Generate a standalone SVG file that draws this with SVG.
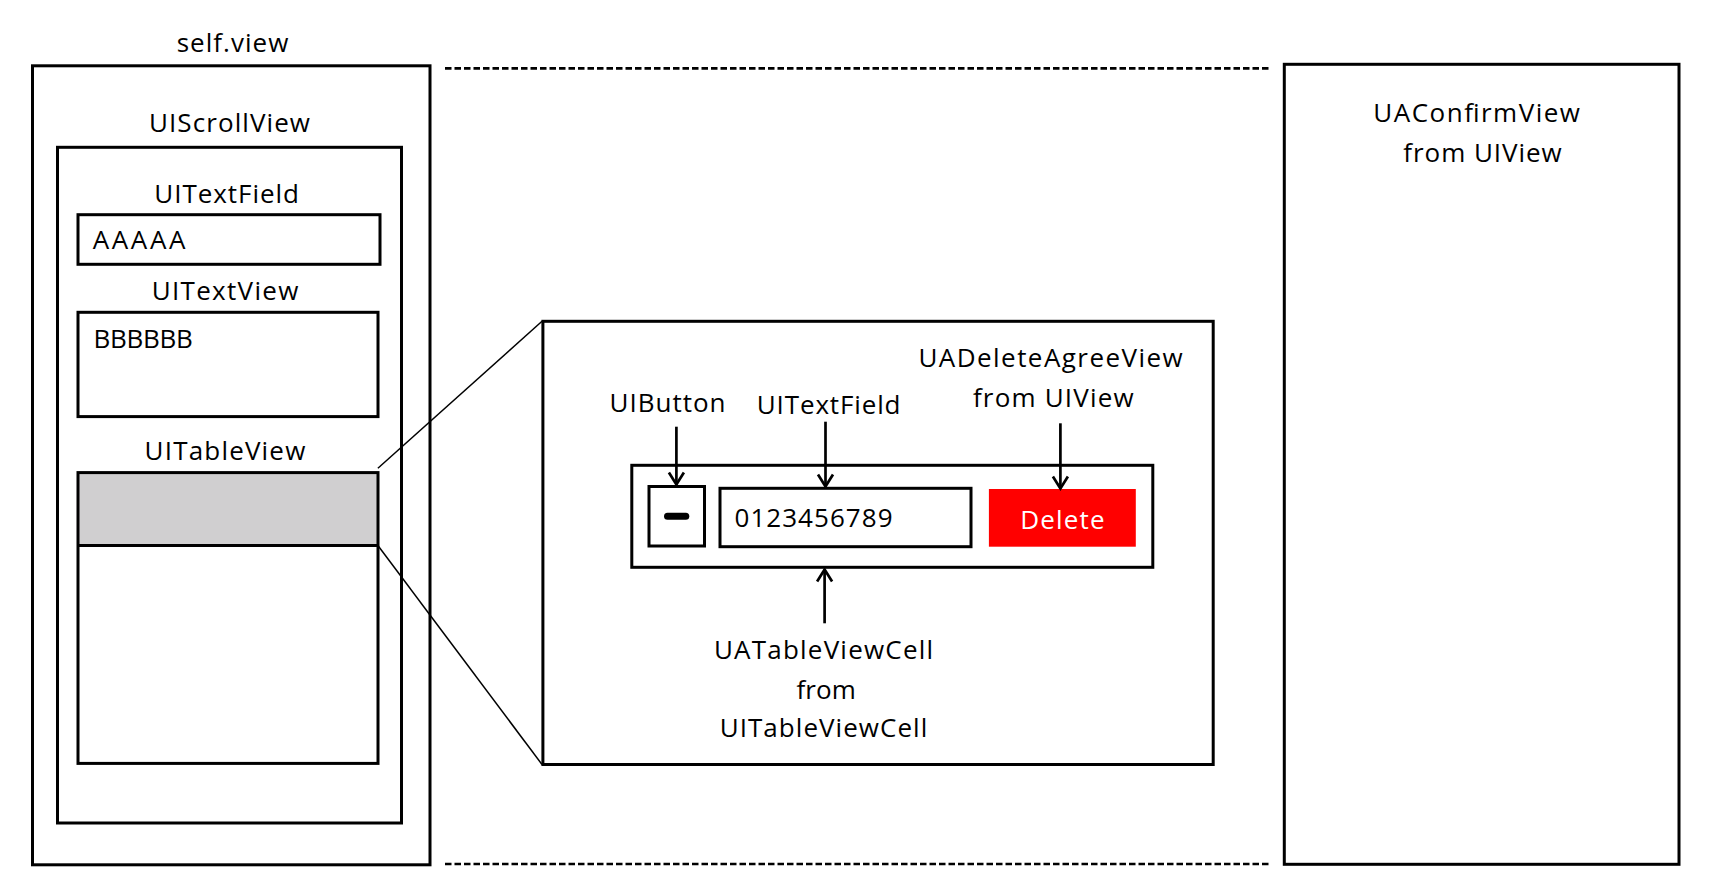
<svg xmlns="http://www.w3.org/2000/svg" width="1711" height="886" viewBox="0 0 1711 886">
<style>
.box{fill:none;stroke:#000;stroke-width:3}
.t{font-family:"Open Sans","Noto Sans","DejaVu Sans",sans-serif;font-size:26px;fill:#000}
.dash{stroke:#000;stroke-width:2.7;stroke-dasharray:6.5 3;fill:none}
.zoom{stroke:#000;stroke-width:1.5;fill:none}
.arr{stroke:#000;stroke-width:2.7;fill:none;marker-end:url(#ah)}
</style>
<defs>
<marker id="ah" markerUnits="userSpaceOnUse" viewBox="-14 -10 16 20" refX="0" refY="0" markerWidth="16" markerHeight="20" orient="auto">
<path d="M-12,-7.5 L0,0 L-12,7.5" fill="none" stroke="#000" stroke-width="2.7"/>
</marker>
</defs>
<rect width="1711" height="886" fill="#fff"/>

<g id="self-view">
<rect class="box" x="32.5" y="65.8" width="397.5" height="799"/>
<text class="t" x="176.7" y="52.3" font-size="25" textLength="111.7">self.view</text>
</g>
<g id="scroll-view">
<rect class="box" x="57.5" y="147.3" width="344" height="675.7"/>
<text class="t" x="149" y="132.3" textLength="161">UIScrollView</text>
</g>
<g id="text-field">
<rect class="box" x="78" y="214.7" width="302" height="49.6"/>
<text class="t" x="154.3" y="202.7" textLength="144.7">UITextField</text>
<text class="t" x="92.7" y="249.3" font-size="27" textLength="92.7">AAAAA</text>
</g>
<g id="text-view">
<rect class="box" x="78" y="312.3" width="300" height="104.3"/>
<text class="t" x="151.7" y="300" textLength="146.7">UITextView</text>
<text class="t" x="93.6" y="347.8" font-size="27" textLength="99.3">BBBBBB</text>
</g>
<g id="table-view">
<rect x="78" y="472.6" width="300" height="72.9" fill="#d0cfd0"/>
<rect class="box" x="78" y="472.6" width="300" height="290.8"/>
<line x1="78" y1="545.5" x2="378" y2="545.5" stroke="#000" stroke-width="3"/>
<text class="t" x="144.6" y="459.6" textLength="160.7">UITableView</text>
</g>

<g id="detail">
<rect class="box" x="542.9" y="321.3" width="670.3" height="443.2"/>
</g>
<g id="cell">
<rect class="box" x="631.8" y="465.3" width="521" height="102"/>
<text class="t" x="713.9" y="659" font-size="27" textLength="219.2">UATableViewCell</text>
<text class="t" x="796.5" y="699.3" font-size="27" textLength="59.4">from</text>
<text class="t" x="719.7" y="737.3" font-size="27" textLength="207.6">UITableViewCell</text>
</g>
<g id="button">
<rect class="box" x="649" y="486.5" width="55.5" height="59.5"/>
<line x1="667.5" y1="516.3" x2="685.8" y2="516.3" stroke="#000" stroke-width="7" stroke-linecap="round"/>
<text class="t" x="609.5" y="411.7" textLength="116">UIButton</text>
</g>
<g id="cell-text-field">
<rect class="box" x="720" y="488.3" width="251" height="58.4"/>
<text class="t" x="756.8" y="414" textLength="143.7">UITextField</text>
<text class="t" x="734.5" y="527.3" font-size="28" textLength="158">0123456789</text>
</g>
<g id="delete-agree-view">
<rect x="988.9" y="489" width="146.9" height="57.7" fill="#ff0000"/>
<text class="t" x="1020.2" y="529" font-size="28" style="fill:#fff" textLength="84.3">Delete</text>
<text class="t" x="918.4" y="367.3" textLength="264.3">UADeleteAgreeView</text>
<text class="t" x="972.9" y="406.7" textLength="160.7">from UIView</text>
</g>

<g id="confirm-view">
<rect class="box" x="1284.3" y="64.3" width="394.7" height="800"/>
<text class="t" x="1373.3" y="121.7" font-size="27" textLength="206.7">UAConfirmView</text>
<text class="t" x="1403.3" y="161.7" font-size="27" textLength="158.4">from UIView</text>
</g>

<g id="connectors">
<line class="dash" x1="445" y1="68.3" x2="1268.5" y2="68.3"/>
<line class="dash" x1="445" y1="864" x2="1270" y2="864"/>
<line class="zoom" x1="377.9" y1="468.2" x2="542" y2="321.3"/>
<line class="zoom" x1="377.9" y1="545.5" x2="542" y2="764.5"/>
<line class="arr" x1="676.4" y1="426.7" x2="676.4" y2="484.5"/>
<line class="arr" x1="825.5" y1="421.7" x2="825.5" y2="486.5"/>
<line class="arr" x1="1060.4" y1="423.3" x2="1060.4" y2="488.5"/>
<line class="arr" x1="824.6" y1="623.3" x2="824.6" y2="569.5"/>
</g>
</svg>
